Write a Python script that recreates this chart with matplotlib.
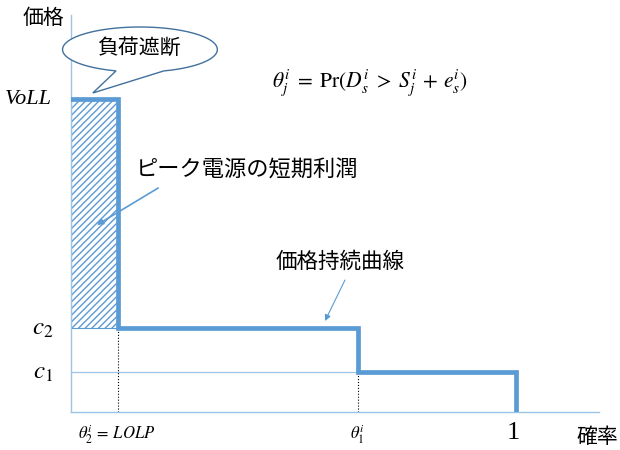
import numpy as np
import matplotlib
matplotlib.use("Agg")
import matplotlib.pyplot as plt
from matplotlib.patches import Rectangle, Polygon

plt.rcParams['font.family'] = ['Noto Sans CJK JP', 'DejaVu Sans']
plt.rcParams['mathtext.fontset'] = 'stix'
plt.rcParams['hatch.color'] = '#5b9bd5'
plt.rcParams['hatch.linewidth'] = 1.0

# price levels and probabilities
voll = 313
c2 = 84
c1 = 40
theta2 = 0.106   # LOLP
theta1 = 0.645
p_end = 1.0

step_x = [0, theta2, theta2, theta1, theta1, p_end, p_end]
step_y = [voll, voll, c2, c2, c1, c1, 0]

line_blue = '#5b9bd5'
pale_blue = '#9dc3e6'

fig = plt.figure(figsize=(6.2, 4.5), dpi=100)
ax = fig.add_axes([71 / 620, 38 / 450, 528 / 620, 397 / 450])
ax.set_xlim(0, 1.187)
ax.set_ylim(0, 397)
for s in ['top', 'right']:
    ax.spines[s].set_visible(False)
for s in ['left', 'bottom']:
    ax.spines[s].set_color(pale_blue)
    ax.spines[s].set_linewidth(1.0)
ax.set_xticks([])
ax.set_yticks([])

# hatched area = short-term profit of peak unit
ax.add_patch(Rectangle((0, c2), theta2, voll - c2, facecolor='white',
                       edgecolor=line_blue, hatch='/////', lw=0.8, zorder=2))

# thin guide lines
ax.plot([0, theta1], [c1, c1], color=pale_blue, lw=0.9, zorder=1)
ax.plot([theta2, theta2], [0, c2], color='black', lw=0.8, ls=':', zorder=1)
ax.plot([theta1, theta1], [0, c1], color='black', lw=0.8, ls=':', zorder=1)

# price duration curve
ax.plot(step_x, step_y, color=line_blue, lw=3.4, solid_joinstyle='miter', zorder=3)

# axis labels
ax.text(-0.061, 394, '価格', fontsize=15, ha='center', va='center', clip_on=False)
ax.text(1.184, -25, '確率', fontsize=15, ha='center', va='center', clip_on=False)

# y tick labels
ax.text(-0.043, voll, 'VoLL', family='Liberation Serif', style='italic',
        fontsize=16, ha='right', va='center', clip_on=False)
ax.text(-0.04, c2, '$c_2$', fontsize=18, ha='right', va='center', clip_on=False)
ax.text(-0.04, c1, '$c_1$', fontsize=18, ha='right', va='center', clip_on=False)

# x tick labels
ax.text(0.016, -22, r'$\theta_2^i \,=\, LOLP$', fontsize=12, ha='left', va='center', clip_on=False)
ax.text(theta1, -22, r'$\theta_1^i$', fontsize=12, ha='center', va='center', clip_on=False)
ax.text(p_end - 0.006, -21, '1', family='Liberation Serif', fontsize=19,
        ha='center', va='center', clip_on=False)

# formula
ax.text(0.672, 329, r'$\theta_j^i \;=\; \mathrm{Pr}(D_s^i \;>\; S_j^i \,+\, e_s^i)$',
        fontsize=15.5, ha='center', va='center')

# callout balloon
cx, cy, w, h = 0.155, 362.5, 0.348, 45
t = np.linspace(np.deg2rad(-72), np.deg2rad(-108) + 2 * np.pi, 200)
ex = cx + w / 2 * np.cos(t)
ey = cy + h / 2 * np.sin(t)
pts = list(zip(ex, ey)) + [(0.049, 319)]
ax.add_patch(Polygon(pts, closed=True, facecolor='white', edgecolor='#41719c',
                     lw=1.0, zorder=5, clip_on=False))
ax.text(cx, cy + 2, '負荷遮断', fontsize=15, ha='center', va='center', zorder=6)

# annotations
ax.text(0.396, 242, 'ピーク電源の短期利潤', fontsize=16, ha='center', va='center')
ax.annotate('', xy=(0.058, 187), xytext=(0.196, 224),
            arrowprops=dict(arrowstyle='-|>', color=line_blue, lw=1.2,
                            mutation_scale=9, shrinkA=0, shrinkB=0), zorder=4)
ax.text(0.604, 150, '価格持続曲線', fontsize=15.5, ha='center', va='center')
ax.annotate('', xy=(0.571, 91), xytext=(0.616, 132),
            arrowprops=dict(arrowstyle='-|>', color=line_blue, lw=0.8,
                            mutation_scale=9, shrinkA=0, shrinkB=0), zorder=4)

fig.savefig('out.png', dpi=100)
